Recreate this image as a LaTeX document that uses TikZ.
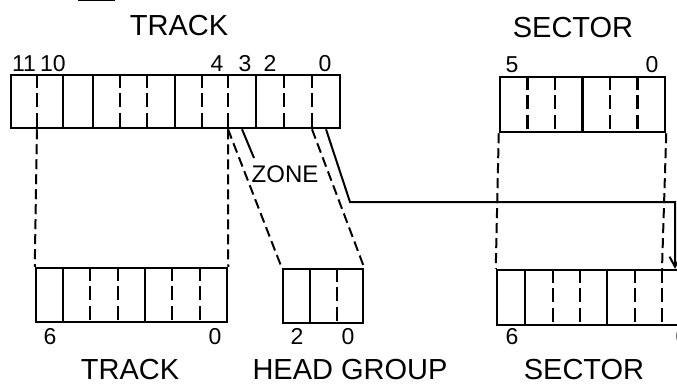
\documentclass[tikz,border=0pt]{standalone}
\usepackage{fontspec}
\setmainfont{Liberation Sans}
\usetikzlibrary{arrows.meta}
\begin{document}
\begin{tikzpicture}[x=1pt,y=-1pt,
  regbox/.style={draw, line width=2.5pt, rectangle, inner sep=0pt},
  soliddiv/.style={line width=2.2pt},
  dashdiv/.style={line width=2.2pt, dash pattern=on 14pt off 5.5pt},
  conn/.style={line width=2pt, dash pattern=on 10pt off 5pt},
  lead/.style={line width=2pt},
  title/.style={font=\fontsize{29}{29}\selectfont, anchor=base, inner sep=0pt, text depth=0pt},
  num/.style={font=\fontsize{23}{23}\selectfont, anchor=base, inner sep=0pt, text depth=0pt},
  zonelbl/.style={font=\fontsize{24}{24}\selectfont, anchor=base, inner sep=0pt, text depth=0pt},
]
\clip (0,0) rectangle (677,383);
% fragment at the top edge
\draw[line width=2pt] (78,0) -- (115,0);

% registers
\node[regbox, minimum width=329pt, minimum height=53pt] (tt) at (175.5,101.5) {};
\node[regbox, minimum width=165pt, minimum height=55pt] (ts) at (582.5,104.5) {};
\node[regbox, minimum width=191pt, minimum height=54pt] (bt) at (131.5,295) {};
\node[regbox, minimum width=80pt, minimum height=54pt] (hg) at (323,296) {};
\node[regbox, minimum width=193pt, minimum height=55pt] (bs) at (593.5,297.5) {};

% dividers
\foreach \x in {63,93,175,256} \draw[soliddiv] (\x,0 |- tt.north) -- (\x,0 |- tt.south);
\foreach \x in {37,120,147,202,228,284,312} \draw[dashdiv] (\x,0 |- tt.north) -- (\x,0 |- tt.south);
\foreach \x in {582.5} \draw[soliddiv] (\x,0 |- ts.north) -- (\x,0 |- ts.south);
\foreach \x in {527.5,555,610,637.5} \draw[dashdiv] (\x,0 |- ts.north) -- (\x,0 |- ts.south);
\foreach \x in {63,145} \draw[soliddiv] (\x,0 |- bt.north) -- (\x,0 |- bt.south);
\foreach \x in {90,118,172,200} \draw[dashdiv] (\x,0 |- bt.north) -- (\x,0 |- bt.south);
\foreach \x in {310} \draw[soliddiv] (\x,0 |- hg.north) -- (\x,0 |- hg.south);
\foreach \x in {337} \draw[dashdiv] (\x,0 |- hg.north) -- (\x,0 |- hg.south);
\foreach \x in {525,607} \draw[soliddiv] (\x,0 |- bs.north) -- (\x,0 |- bs.south);
\foreach \x in {553,580,635,662} \draw[dashdiv] (\x,0 |- bs.north) -- (\x,0 |- bs.south);

% connector end points on the registers
\coordinate (tt11) at (37,0 |- tt.south);
\coordinate (tt4) at (228,0 |- tt.south);
\coordinate (tt3) at (242,0 |- tt.south);
\coordinate (tt1) at (312,0 |- tt.south);
\coordinate (tt0) at (326,0 |- tt.south);
\coordinate (bend1) at (350,202);
\coordinate (bend2) at (675,202);
\coordinate (bs0) at (675,0 |- bs.north);
\coordinate (bs1) at (662,0 |- bs.north);
\coordinate (zonelead) at (254,158);

% labels
\node[title] (ttl) at (179,35) {TRACK};
\node[title] (stl) at (573,37) {SECTOR};
\node[num] (n11) at (24,71) {11};
\node[num] (n10) at (53,71) {10};
\node[num] (n4) at (217,71) {4};
\node[num] (n3) at (245,71) {3};
\node[num] (n2) at (270,71) {2};
\node[num] (n0) at (325,71) {0};
\node[num] (s5) at (512,72) {5};
\node[num] (s0) at (652,72) {0};
\node[zonelbl] (zone) at (285,182) {ZONE};
\node[num] (b6) at (50,344) {6};
\node[num] (b0) at (215,344) {0};
\node[num] (h2) at (297,344) {2};
\node[num] (h0) at (348,344) {0};
\node[num] (c6) at (512,344) {6};
\node[num] (c0) at (682,344) {0};
\node[title] (btl) at (130,379) {TRACK};
\node[title] (hgl) at (350,379) {HEAD GROUP};
\node[title] (bsl) at (584,379) {SECTOR};

% connectors
\draw[conn] (tt11) -- (bt.north west);
\draw[conn] (tt4) -- (bt.north east);
\draw[conn] (tt4) -- (hg.north west);
\draw[conn] (tt1) -- (hg.north east);
\draw[lead] (tt3) -- (zonelead);
\draw[lead, -{Straight Barb[length=10pt,width=11pt,line width=2pt]}] (tt0) -- (bend1) -- (bend2) -- (bs0);
\draw[conn] (ts.south west) -- (bs.north west);
\draw[conn] (ts.south east) -- (bs1);
\end{tikzpicture}
\end{document}
